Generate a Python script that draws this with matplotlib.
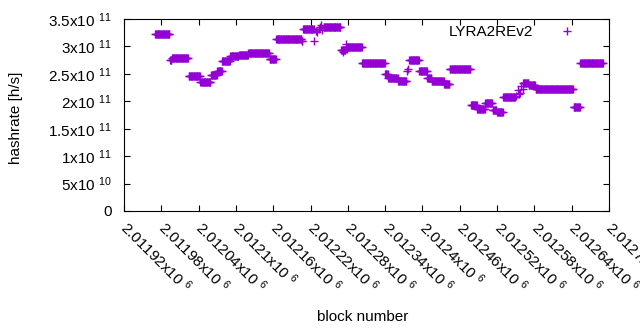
import numpy as np
import matplotlib.pyplot as plt

plt.rcParams['font.family'] = ['Liberation Sans', 'DejaVu Sans']
plt.rcParams['mathtext.default'] = 'regular'

# --- data: hashrate stays constant over runs of blocks ---
seg_start = [2011970, 2011994, 2011997, 2012024, 2012043, 2012060, 2012070, 2012078,
             2012091, 2012105, 2012120, 2012154, 2012165, 2012206, 2012208, 2012226,
             2012228, 2012230, 2012233, 2012235, 2012237, 2012239, 2012241, 2012269,
             2012272, 2012277, 2012278, 2012279, 2012303, 2012340, 2012345, 2012361,
             2012375, 2012377, 2012379, 2012395, 2012408, 2012415, 2012435, 2012444,
             2012478, 2012488, 2012501, 2012513, 2012520, 2012530, 2012551, 2012553,
             2012555, 2012557, 2012559, 2012561, 2012562, 2012571, 2012582, 2012643,
             2012654]
seg_end = [2011993, 2011996, 2012023, 2012042, 2012059, 2012069, 2012077, 2012090,
           2012104, 2012119, 2012153, 2012164, 2012205, 2012207, 2012225, 2012226,
           2012228, 2012230, 2012233, 2012235, 2012237, 2012239, 2012268, 2012276,
           2012272, 2012277, 2012278, 2012302, 2012339, 2012344, 2012360, 2012374,
           2012375, 2012377, 2012394, 2012407, 2012414, 2012434, 2012443, 2012477,
           2012487, 2012500, 2012512, 2012519, 2012529, 2012549, 2012551, 2012553,
           2012555, 2012557, 2012559, 2012561, 2012570, 2012581, 2012642, 2012653,
           2012690]
seg_rate = [3.22e11, 2.755e11, 2.78e11, 2.465e11, 2.357e11, 2.485e11, 2.56e11, 2.74e11,
            2.83e11, 2.845e11, 2.875e11, 2.766e11, 3.14e11, 3.10e11, 3.31e11, 3.09e11,
            3.28e11, 3.26e11, 3.31e11, 3.35e11, 3.385e11, 3.30e11, 3.36e11, 2.935e11,
            2.89e11, 3.05e11, 2.96e11, 2.99e11, 2.70e11, 2.50e11, 2.43e11, 2.364e11,
            2.55e11, 2.58e11, 2.747e11, 2.547e11, 2.43e11, 2.375e11, 2.31e11, 2.589e11,
            1.925e11, 1.86e11, 1.96e11, 1.84e11, 1.81e11, 2.07e11, 2.10e11, 2.20e11,
            2.14e11, 2.16e11, 2.28e11, 2.22e11, 2.33e11, 2.29e11, 2.218e11, 1.896e11,
            2.69e11]

xtick_pos = [2011920, 2011980, 2012040, 2012100, 2012160, 2012220, 2012280,
             2012340, 2012400, 2012460, 2012520, 2012580, 2012640, 2012700]
xtick_text = ['2.01192', '2.01198', '2.01204', '2.0121', '2.01216', '2.01222', '2.01228',
              '2.01234', '2.0124', '2.01246', '2.01252', '2.01258', '2.01264', '2.0127']
ytick_pos = [0, 5e10, 1e11, 1.5e11, 2e11, 2.5e11, 3e11, 3.5e11]
ytick_text = ['0', '5x10 $^{10}$', '1x10 $^{11}$', '1.5x10 $^{11}$', '2x10 $^{11}$',
              '2.5x10 $^{11}$', '3x10 $^{11}$', '3.5x10 $^{11}$']

blocks = np.concatenate([np.arange(s, e + 1) for s, e in zip(seg_start, seg_end)])
rates = np.concatenate([np.full(e - s + 1, r) for s, e, r in zip(seg_start, seg_end, seg_rate)])

# --- plot ---
fig = plt.figure(figsize=(6.4, 3.3), dpi=100)
ax = fig.add_axes([124 / 640, 1 - 211 / 330, 485 / 640, 192 / 330])
ax.plot(blocks, rates, '+', color='#9400d3', ms=5.5, mew=1.0, linestyle='none', label='LYRA2REv2')

ax.set_xlim(2011920, 2012700)
ax.set_ylim(0, 3.5e11)
ax.set_xticks(xtick_pos)
ax.set_xticklabels([t + 'x10 $^{6}$' for t in xtick_text], rotation=-45,
                   ha='left', va='center', rotation_mode='anchor')
ax.set_yticks(ytick_pos)
ax.set_yticklabels(ytick_text)
ax.tick_params(direction='in', length=4, width=0.8, top=True, right=True, labelsize=11)
ax.tick_params(axis='x', pad=10)
ax.tick_params(axis='y', pad=9)
for s in ax.spines.values():
    s.set_linewidth(0.8)

fig.text(16 / 640, 1 - 117.5 / 330, 'hashrate [h/s]', rotation=90, ha='center', va='center', fontsize=11)
fig.text(363 / 640, 1 - 317 / 330, 'block number', ha='center', va='center', fontsize=11)

ax.legend(loc='center right', bbox_to_anchor=(590 / 640, 1 - 32 / 330), bbox_transform=fig.transFigure,
          frameon=False, markerfirst=False, numpoints=1, handlelength=2, handletextpad=1.25,
          borderpad=0, fontsize=11)

fig.savefig('out.png', dpi=100)
